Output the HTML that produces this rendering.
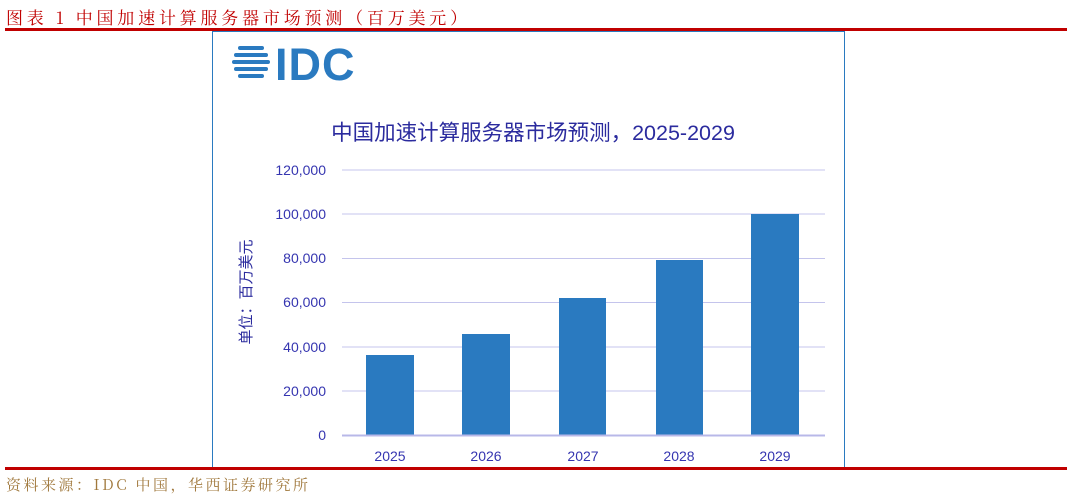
<!DOCTYPE html>
<html><head><meta charset="utf-8"><style>
body{margin:0;width:1072px;height:498px;background:#fff;position:relative;overflow:hidden;font-family:"Liberation Sans","Noto Sans CJK SC",sans-serif}
.a{position:absolute}
</style></head><body>
<div class="a" style="left:6px;top:4px;font-size:17px;color:#c00000;font-family:'Noto Serif CJK SC',serif;letter-spacing:3.8px;white-space:nowrap">图表 1  中国加速计算服务器市场预测（百万美元）</div>
<div class="a" style="left:5px;top:28px;width:1062px;height:3px;background:#c00000"></div>
<div class="a" style="left:212px;top:31px;width:631px;height:437px;border:1px solid #2a7ac0;border-bottom:none"></div>
<div class="a" style="left:5px;top:467px;width:1062px;height:3px;background:#c00000"></div>
<div class="a" style="left:6px;top:474px;font-size:15px;color:#a0783c;font-family:'Noto Serif CJK SC',serif;letter-spacing:2.5px;white-space:nowrap">资料来源：IDC 中国，华西证券研究所</div>
<svg class="a" style="left:0;top:0" width="1072" height="498">
<g fill="#2a7ac0">
<rect x="238" y="46" width="26" height="4" rx="2"/><rect x="234" y="53" width="34" height="4" rx="2"/><rect x="232" y="60" width="38" height="4" rx="2"/><rect x="234" y="67" width="34" height="4" rx="2"/><rect x="238" y="74" width="26" height="4" rx="2"/>
</g>
<text x="275" y="80" font-size="45" fill="#2a7ac0" font-family="Liberation Sans" font-weight="bold" letter-spacing="1">IDC</text>
<text x="533" y="140" text-anchor="middle" font-size="21.5" fill="#2b2b9e" font-family="Liberation Sans,Noto Sans CJK SC,sans-serif">中国加速计算服务器市场预测，2025-2029</text>
<g stroke="#c4c4ec" stroke-width="1">
<line x1="342" x2="825" y1="170" y2="170"/><line x1="342" x2="825" y1="214" y2="214"/><line x1="342" x2="825" y1="258.5" y2="258.5"/><line x1="342" x2="825" y1="302.5" y2="302.5"/><line x1="342" x2="825" y1="347" y2="347"/><line x1="342" x2="825" y1="391" y2="391"/>
</g>
<g fill="#2a7ac0">
<rect x="366" y="355" width="48" height="80"/><rect x="462" y="334" width="48" height="101"/><rect x="559" y="298" width="47" height="137"/><rect x="656" y="260" width="47" height="175"/><rect x="751" y="214" width="48" height="221"/>
</g>
<line x1="342" x2="825" y1="435.5" y2="435.5" stroke="#b8b8e8" stroke-width="2"/>
<g font-size="14" fill="#3535b0" text-anchor="end" font-family="Liberation Sans,sans-serif">
<text x="326" y="175">120,000</text><text x="326" y="219">100,000</text><text x="326" y="263">80,000</text><text x="326" y="307">60,000</text><text x="326" y="352">40,000</text><text x="326" y="396">20,000</text><text x="326" y="440">0</text>
</g>
<g font-size="14" fill="#3535b0" text-anchor="middle" font-family="Liberation Sans,sans-serif">
<text x="390" y="461">2025</text><text x="486" y="461">2026</text><text x="583" y="461">2027</text><text x="679" y="461">2028</text><text x="775" y="461">2029</text>
</g>
<text transform="translate(251,292) rotate(-90)" text-anchor="middle" font-size="15" fill="#2b2b9e" font-family="Noto Sans CJK SC,sans-serif">单位：百万美元</text>
</svg>
</body></html>
